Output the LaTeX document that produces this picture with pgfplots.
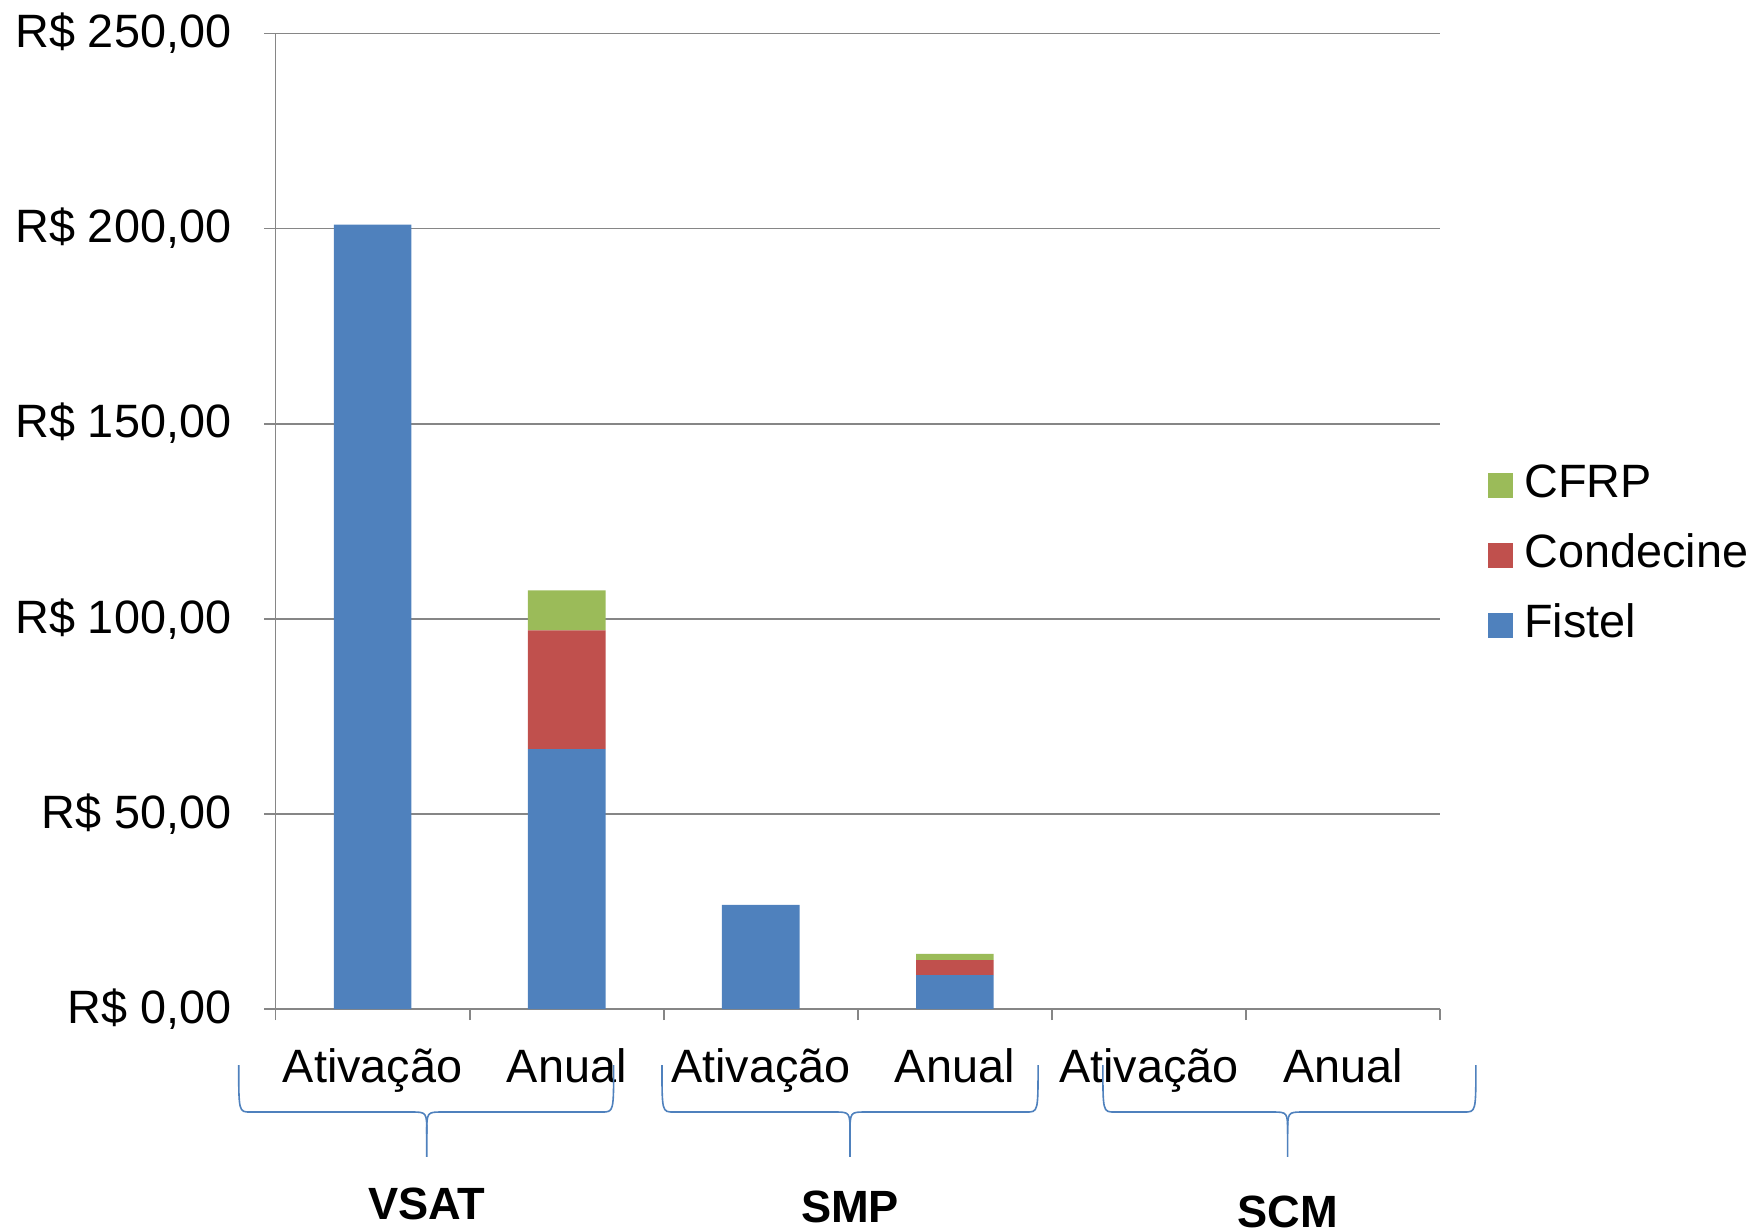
\documentclass[border=0pt]{standalone}
\usepackage{fontspec}
\setmainfont{Liberation Sans}
\usepackage{pgfplots}
\pgfplotsset{compat=1.18}
\definecolor{fistel}{HTML}{4F81BD}
\definecolor{condecine}{HTML}{C0504D}
\definecolor{cfrp}{HTML}{9BBB59}
\definecolor{axgray}{RGB}{134,134,134}
\newcommand{\groupbrace}[3]{%
  \draw[fistel, line width=0.4pt]
    (#1,-14.35) .. controls (#1,-26.4) .. (#1+0.06,-26.4) -- (#3-0.08,-26.4)
    .. controls (#3,-26.4) .. (#3,-32) -- (#3,-37.9);
  \draw[fistel, line width=0.4pt]
    (#2,-14.35) .. controls (#2,-26.4) .. (#2-0.06,-26.4) -- (#3+0.08,-26.4)
    .. controls (#3,-26.4) .. (#3,-32);
}
\begin{document}
\begin{tikzpicture}
\useasboundingbox (0,0) rectangle (439pt,307.75pt);
\begin{axis}[
  at={(68.9pt,55.5pt)}, anchor=south west,
  scale only axis, width=291.1pt, height=243.9pt,
  ybar stacked, bar width=0.4,
  xmin=-0.5, xmax=5.5, ymin=0, ymax=250,
  axis x line=bottom, axis y line=left,
  axis line style={axgray, line width=0.45pt, -},
  xtick={0,...,5}, xticklabels={Ativação,Anual,Ativação,Anual,Ativação,Anual},
  major x tick style={draw=none},
  minor xtick={-0.5,0.5,...,5.5},
  minor tick length=2.8pt,
  x tick style={axgray, line width=0.45pt},
  ytick={0,50,...,250},
  yticklabels={{R\$ 0,00},{R\$ 50,00},{R\$ 100,00},{R\$ 150,00},{R\$ 200,00},{R\$ 250,00}},
  y tick style={axgray, line width=0.45pt},
  major tick length=2.8pt,
  tick align=outside,
  ymajorgrids, grid style={axgray, line width=0.45pt},
  /pgf/number format/assume math mode=true,
  tick label style={font=\fontsize{11.7pt}{14pt}\selectfont},
  yticklabel style={inner sep=0pt, anchor=east, xshift=-8.1pt},
  xticklabel style={inner sep=0pt, anchor=north, yshift=-7pt},
  clip=false,
  reverse legend,
  legend style={at={(1.0405,0.465)}, anchor=west, draw=none, inner sep=0pt,
    font=\fontsize{11.7pt}{14pt}\selectfont, row sep=3.5pt,
    nodes={text height=8.5pt, text depth=2.5pt, inner sep=1.5pt}},
  legend cell align=left,
  legend image code/.code={\fill[#1] (0pt,-3.1pt) rectangle (6.2pt,3.1pt); \path (7.6pt,0pt);},
]
\addplot[fill=fistel, draw=none] coordinates {(0,201) (1,66.6) (2,26.7) (3,8.7) (4,0) (5,0)};
\addplot[fill=condecine, draw=none] coordinates {(0,0) (1,30.4) (2,0) (3,3.85) (4,0) (5,0)};
\addplot[fill=cfrp, draw=none] coordinates {(0,0) (1,10.3) (2,0) (3,1.55) (4,0) (5,0)};
\legend{Fistel,Condecine,CFRP}
\groupbrace{-0.69}{1.242}{0.279}
\groupbrace{1.491}{3.429}{2.46}
\groupbrace{3.763}{5.685}{4.715}
\node[inner sep=0pt, font=\fontsize{11.3pt}{14pt}\selectfont\bfseries] at (0.279,-50.0) {VSAT};
\node[inner sep=0pt, font=\fontsize{11.3pt}{14pt}\selectfont\bfseries] at (2.46,-50.8) {SMP};
\node[inner sep=0pt, font=\fontsize{11.3pt}{14pt}\selectfont\bfseries] at (4.715,-52.0) {SCM};
\end{axis}
\end{tikzpicture}
\end{document}
